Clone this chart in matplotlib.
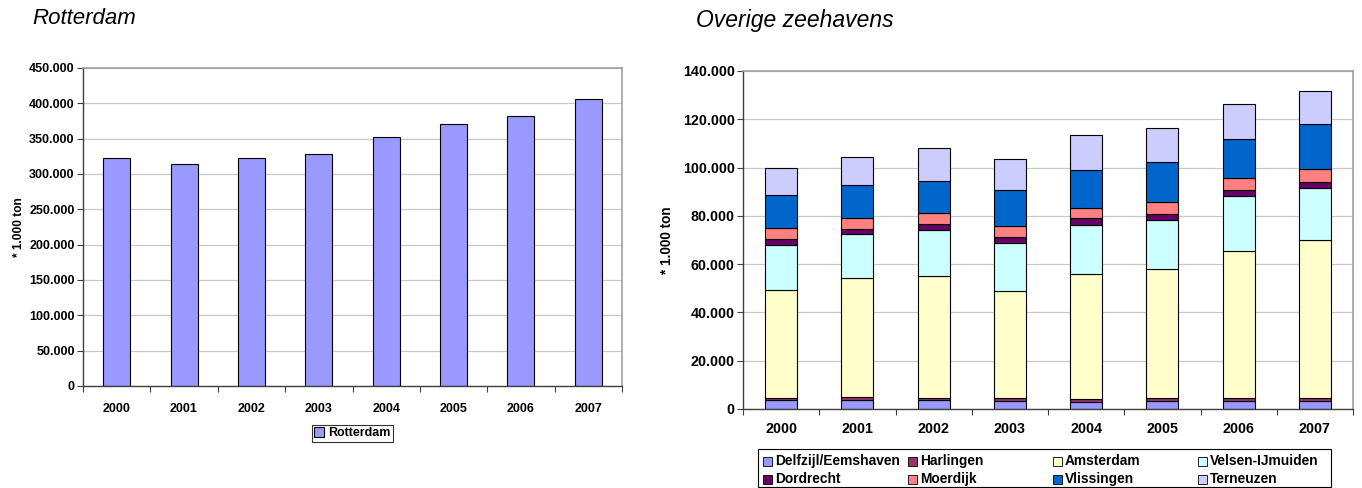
import matplotlib
matplotlib.use("Agg")
import matplotlib.pyplot as plt
import numpy as np
from matplotlib.patches import Patch, Rectangle

plt.rcParams['font.family'] = ['Liberation Sans', 'DejaVu Sans']

years = ['2000', '2001', '2002', '2003', '2004', '2005', '2006', '2007']
rotterdam = [322.7, 314.7, 322.2, 328.3, 352.7, 370.6, 381.9, 406.8]  # thousands of (1.000 ton)

# Overige zeehavens (thousands of 1.000 ton), bottom to top
delfzijl   = [3.7, 3.7, 3.7, 3.3, 3.0, 3.2, 3.2, 3.2]
harlingen  = [1.0, 1.1, 1.0, 1.1, 1.3, 1.2, 1.5, 1.5]
amsterdam  = [44.4, 49.3, 50.2, 44.5, 51.5, 53.7, 60.7, 65.1]
velsen     = [18.9, 18.3, 19.4, 19.9, 20.6, 20.2, 22.7, 21.7]
dordrecht  = [2.3, 2.2, 2.4, 2.6, 2.6, 2.5, 2.5, 2.4]
moerdijk   = [4.6, 4.6, 4.5, 4.3, 4.3, 5.1, 5.2, 5.5]
vlissingen = [13.9, 13.4, 13.1, 15.2, 15.7, 16.4, 16.0, 18.6]
terneuzen  = [11.0, 11.9, 13.6, 12.6, 14.3, 14.2, 14.4, 13.9]

series_names = ['Delfzijl/Eemshaven', 'Harlingen', 'Amsterdam', 'Velsen-IJmuiden',
                'Dordrecht', 'Moerdijk', 'Vlissingen', 'Terneuzen']
series_vals = [delfzijl, harlingen, amsterdam, velsen, dordrecht, moerdijk, vlissingen, terneuzen]
series_cols = ['#9999FF', '#993366', '#FFFFCC', '#CCFFFF', '#660066', '#FF8080', '#0066CC', '#CCCCFF']

left_ticks = [0, 50, 100, 150, 200, 250, 300, 350, 400, 450]
left_ticklabels = ['0', '50.000', '100.000', '150.000', '200.000', '250.000', '300.000',
                   '350.000', '400.000', '450.000']
right_ticks = [0, 20, 40, 60, 80, 100, 120, 140]
right_ticklabels = ['0', '20.000', '40.000', '60.000', '80.000', '100.000', '120.000', '140.000']

W, H = 1362, 488
fig = plt.figure(figsize=(W / 100, H / 100), dpi=100)


def axrect(x0, y0, x1, y1):
    return [x0 / W, 1 - y1 / H, (x1 - x0) / W, (y1 - y0) / H]


def style(ax, fs):
    for s in ['top', 'right']:
        ax.spines[s].set_color('#a0a0a0')
        ax.spines[s].set_linewidth(1.2)
    for s in ['left', 'bottom']:
        ax.spines[s].set_color('#404040')
        ax.spines[s].set_linewidth(1.0)
    ax.yaxis.grid(True, color='#c8c8c8', linewidth=0.9)
    ax.set_axisbelow(True)
    ax.tick_params(axis='y', length=4, width=0.8, color='#404040', labelsize=fs, pad=2)
    ax.tick_params(axis='x', length=0, labelsize=fs, pad=8)
    for lab in ax.get_xticklabels() + ax.get_yticklabels():
        lab.set_fontweight('bold')


x = np.arange(len(years))

# ---------- Left: Rotterdam ----------
ax1 = fig.add_axes(axrect(83, 68, 622, 386))
ax1.bar(x, rotterdam, width=0.4, color='#9999FF', edgecolor='black', linewidth=0.8,
        label='Rotterdam')
ax1.set_xlim(-0.5, len(years) - 0.5)
ax1.set_ylim(0, 450)
ax1.set_yticks(left_ticks)
ax1.set_yticklabels(left_ticklabels)
ax1.set_xticks(x)
ax1.set_xticklabels(years)
ax1.set_xticks(np.arange(-0.5, len(years), 1), minor=True)
ax1.tick_params(axis='x', which='minor', length=4, width=0.8, color='#404040')
style(ax1, 9)
ax1.tick_params(axis='x', pad=12)
ax1.set_ylabel('* 1.000 ton', fontsize=8.6, fontweight='bold', labelpad=3)
leg1 = ax1.legend(handles=[Patch(facecolor='#9999FF', edgecolor='black', linewidth=0.8,
                                 label='Rotterdam')],
                  loc='upper center', bbox_to_anchor=(0.5, -0.122), frameon=True,
                  fancybox=False, edgecolor='black', prop={'weight': 'bold', 'size': 9},
                  handlelength=0.8, handleheight=0.8, handletextpad=0.3, borderpad=0.2,
                  borderaxespad=0)
leg1.get_frame().set_linewidth(0.8)
fig.text(32 / W, 1 - 19 / H, 'Rotterdam', fontsize=16, style='italic', va='center', ha='left')

# ---------- Right: Overige zeehavens ----------
ax2 = fig.add_axes(axrect(743, 71, 1353, 409))
bottom = np.zeros(len(years))
for name, vals, col in zip(series_names, series_vals, series_cols):
    ax2.bar(x, vals, bottom=bottom, width=0.42, color=col, edgecolor='black', linewidth=0.8,
            label=name)
    bottom += np.array(vals)
ax2.set_xlim(-0.5, len(years) - 0.5)
ax2.set_ylim(0, 140)
ax2.set_yticks(right_ticks)
ax2.set_yticklabels(right_ticklabels)
ax2.set_xticks(x)
ax2.set_xticks(np.arange(-0.5, len(years), 1), minor=True)
ax2.set_xticklabels(years)
ax2.tick_params(axis='x', which='minor', length=4, width=0.8, color='#404040')
style(ax2, 10.3)
ax2.tick_params(axis='x', pad=9.5)
ax2.set_ylabel('* 1.000 ton', fontsize=9.8, fontweight='bold', labelpad=6)
fig.text(696 / W, 1 - 21 / H, 'Overige zeehavens', fontsize=16.5, style='italic',
         va='center', ha='left')

# Manual legend with equal column widths (Excel style)
bx0, by0, bx1, by1 = 758, 449, 1331, 487
fig.add_artist(Rectangle((bx0 / W, 1 - by1 / H), (bx1 - bx0) / W, (by1 - by0) / H,
                         transform=fig.transFigure, facecolor='white', edgecolor='black',
                         linewidth=0.8))
col_x = [763, 908, 1053, 1198]
row_y = [461, 479]
for k in range(8):
    r, c = divmod(k, 4)
    mx, my = col_x[c], row_y[r]
    s = 9
    fig.add_artist(Rectangle((mx / W, 1 - (my + s / 2) / H), s / W, s / H,
                             transform=fig.transFigure, facecolor=series_cols[k],
                             edgecolor='black', linewidth=0.6))
    fig.text((mx + s + 3) / W, 1 - my / H, series_names[k], fontsize=9.9,
             fontweight='bold', va='center', ha='left')

fig.savefig('out.png', dpi=100)
